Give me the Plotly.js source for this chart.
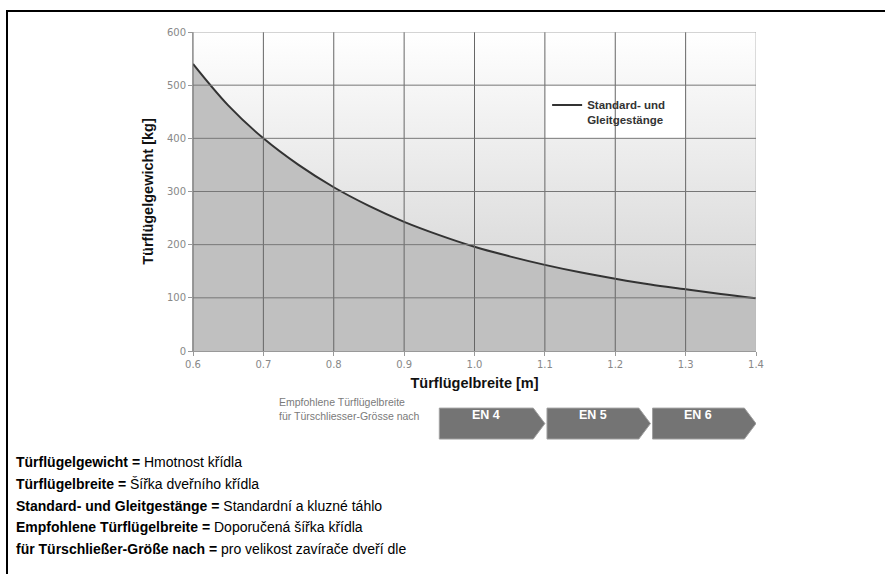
<!DOCTYPE html>
<html>
<head>
<meta charset="utf-8">
<script src="https://cdn.plot.ly/plotly-3.0.1.min.js"></script>
<style>
  html, body { margin: 0; padding: 0; background: #fff; overflow: hidden; }
  #wrap { position: relative; width: 885px; height: 574px; overflow: hidden; }
  #chart { position: absolute; left: 0; top: 0; width: 885px; height: 574px; }
  #frameTop { position: absolute; left: 6px; top: 10px; width: 879px; height: 2px; background: #000; }
  #frameLeft { position: absolute; left: 6px; top: 10px; width: 2px; height: 564px; background: #000; }
  .gloss { position: absolute; left: 16px; font-family: Arial, "Liberation Sans", sans-serif;
           font-size: 14px; line-height: 14px; color: #000; white-space: nowrap; }
  .gloss b { font-weight: bold; }
</style>
</head>
<body>
<div id="wrap">
  <div id="chart"></div>
  <div id="frameTop"></div>
  <div id="frameLeft"></div>
  <div class="gloss" style="top:455px"><b>Türflügelgewicht =</b> Hmotnost křídla</div>
  <div class="gloss" style="top:477px"><b>Türflügelbreite =</b> Šířka dveřního křídla</div>
  <div class="gloss" style="top:499px"><b>Standard- und Gleitgestänge =</b> Standardní a kluzné táhlo</div>
  <div class="gloss" style="top:520px"><b>Empfohlene Türflügelbreite =</b> Doporučená šířka křídla</div>
  <div class="gloss" style="top:542px"><b>für Türschließer-Größe nach =</b> pro velikost zavírače dveří dle</div>
</div>
<script>
// ---- data ----
const widths  = [0.6, 0.65, 0.7, 0.75, 0.8, 0.85, 0.9, 0.95, 1.0, 1.05, 1.1, 1.15, 1.2, 1.25, 1.3, 1.35, 1.4];
const weights = [540, 462, 400, 350, 308, 273, 243, 218, 196, 178, 162, 148, 136, 125, 116, 107, 99];
const seriesName = "Standard- und<br>Gleitgestänge";
const xTicks = [0.6, 0.7, 0.8, 0.9, 1.0, 1.1, 1.2, 1.3, 1.4];
const yTicks = [0, 100, 200, 300, 400, 500, 600];
const closerSizes = ["EN 4", "EN 5", "EN 6"];
const closerBounds = [0.95, 1.10, 1.25, 1.40];   // recommended width ranges per closer size
const closerCaption = "Empfohlene Türflügelbreite<br>für Türschliesser-Grösse nach";

const xMin = xTicks[0], xMax = xTicks[xTicks.length - 1];
const yMin = yTicks[0], yMax = yTicks[yTicks.length - 1];

const traces = [
  { // background gradient of the plot area
    x: [xMin, xMax, xMax, xMin, xMin], y: [yMin, yMin, yMax, yMax, yMin],
    type: 'scatter', mode: 'none', fill: 'toself',
    fillgradient: { type: 'vertical', colorscale: [[0, '#cdcdcd'], [1, '#ffffff']] },
    hoverinfo: 'skip', showlegend: false
  },
  { // area under the curve
    x: widths, y: weights, type: 'scatter', mode: 'none', fill: 'tozeroy',
    fillcolor: '#c0c0c0', line: { shape: 'spline' }, hoverinfo: 'skip', showlegend: false
  },
  { // the curve itself
    x: widths, y: weights, type: 'scatter', mode: 'lines', name: seriesName,
    line: { color: '#333333', width: 2, shape: 'spline', smoothing: 1 }
  }
];

const shapes = [];
// white legend cell
shapes.push({ type: 'rect', xref: 'x', yref: 'y', x0: xTicks[5], x1: xTicks[7], y0: yTicks[4], y1: yTicks[5],
  fillcolor: '#ffffff', line: { width: 0 }, layer: 'above' });
// grid lines drawn above the fills
xTicks.forEach((x, i) => shapes.push({ type: 'line', xref: 'x', yref: 'y', x0: x, x1: x, y0: yMin, y1: yMax,
  line: { color: i === xTicks.length - 1 ? '#bbbbbb' : '#666666', width: 1 }, layer: 'above' }));
yTicks.forEach((y, i) => { if (i > 0) shapes.push({ type: 'line', xref: 'x', yref: 'y', x0: xMin, x1: xMax, y0: y, y1: y,
  line: { color: i === yTicks.length - 1 ? '#aaaaaa' : '#777777', width: 1 }, layer: 'above' }); });

// closer-size arrows below the chart
const arrowTop = -0.179, arrowBot = -0.276, arrowMid = (arrowTop + arrowBot) / 2, tip = 0.0165;
const annotations = [];
closerSizes.forEach((lab, i) => {
  const x0 = closerBounds[i] + (i ? 0.003 : 0), x1 = closerBounds[i + 1];
  shapes.push({ type: 'path', xref: 'x', yref: 'paper',
    path: `M ${x0},${arrowTop} L ${x1 - tip},${arrowTop} L ${x1},${arrowMid} L ${x1 - tip},${arrowBot} L ${x0},${arrowBot} Z`,
    fillcolor: '#747474', line: { color: '#a0a0a0', width: 1 } });
  annotations.push({ xref: 'x', yref: 'paper', x: (x0 + x1 - tip) / 2, y: arrowMid, text: '<b>' + lab + '</b>',
    showarrow: false, font: { family: 'Arial', size: 12.5, color: '#ffffff' } });
});
annotations.push({ xref: 'paper', yref: 'paper', x: 0.149, y: arrowMid, xanchor: 'left', align: 'left',
  text: closerCaption, showarrow: false, font: { family: 'Arial', size: 10.5, color: '#7a7a7a' } });

const axisFont = { family: 'DejaVu Sans', size: 10, color: '#888888' };
const layout = {
  width: 885, height: 574,
  margin: { l: 193, r: 129, t: 32, b: 223 },
  paper_bgcolor: '#ffffff', plot_bgcolor: '#ffffff',
  showlegend: true,
  legend: { x: 0.629, y: 0.815, xanchor: 'left', yanchor: 'top', bgcolor: 'rgba(0,0,0,0)', borderwidth: 0,
    valign: 'top', font: { family: 'Arial', size: 11.5, color: '#333333', weight: 'bold' } },
  xaxis: { range: [xMin, xMax], tickvals: xTicks, ticktext: xTicks.map(v => v.toFixed(1)),
    showgrid: false, zeroline: false, showline: true, linecolor: '#999999', linewidth: 1,
    ticks: 'outside', ticklen: 4, tickcolor: '#999999', tickfont: axisFont,
    title: { text: '<b>Türflügelbreite [m]</b>', standoff: 8, font: { family: 'Arial', size: 14.5, color: '#111111' } } },
  yaxis: { range: [yMin, yMax], tickvals: yTicks, showgrid: false, zeroline: false,
    showline: true, linecolor: '#999999', linewidth: 1,
    ticks: 'outside', ticklen: 4, tickcolor: '#999999', tickfont: axisFont,
    title: { text: '<b>Türflügelgewicht [kg]</b>', standoff: 9, font: { family: 'Arial', size: 14.5, color: '#111111' } } },
  shapes: shapes,
  annotations: annotations
};

Plotly.newPlot('chart', traces, layout, { staticPlot: true, displayModeBar: false });
</script>
</body>
</html>
